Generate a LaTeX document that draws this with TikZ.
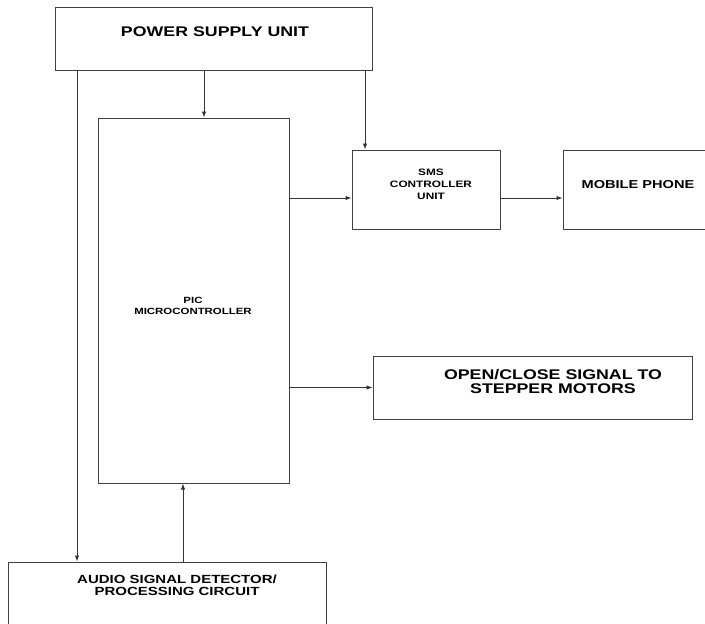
\documentclass[tikz,border=0pt]{standalone}
\usepackage{fontspec}
\setmainfont{Liberation Sans}[FakeStretch=1.27]
\usetikzlibrary{arrows.meta,positioning}

\tikzset{
  blk/.style={draw=black!75, line width=1pt, inner sep=0pt},
  txt/.style={align=center, inner sep=0pt},
  sig/.style={draw=black!80, line width=0.9pt, -{Latex[length=6pt,width=4.5pt]}}
}

\begin{document}
\begin{tikzpicture}[x=1pt,y=-1pt,node distance=211pt,on grid]
\useasboundingbox (0,0) rectangle (705,624);

% blocks
\node[blk,minimum width=317pt,minimum height=63pt]  (psu)   at (213.5,38.5)  {};
\node[blk,minimum width=191pt,minimum height=365pt] (pic)   at (193.5,300.5) {};
\node[blk,minimum width=148pt,minimum height=79pt]  (sms)   at (426,189.5)   {};
\node[blk,minimum width=148pt,minimum height=79pt]  (phone) [right=211pt of sms] {};
\node[blk,minimum width=319pt,minimum height=63pt]  (motor) at (532.5,387.5) {};
\node[blk,minimum width=318pt,minimum height=64pt]  (audio) at (167,594)     {};

% labels
\node[txt,font=\bfseries\fontsize{14pt}{14pt}\selectfont]   (psut)   at (215,31.7)  {POWER SUPPLY UNIT};
\node[txt,font=\bfseries\fontsize{9pt}{11.7pt}\selectfont]  (pict)   at (193,306)   {PIC\\MICROCONTROLLER};
\node[txt,font=\bfseries\fontsize{9.3pt}{12pt}\selectfont]  (smst)   at (431,184)   {SMS\\CONTROLLER\\UNIT};
\node[txt,font=\bfseries\fontsize{11.5pt}{12pt}\selectfont] (phonet) at (638,185)   {MOBILE PHONE};
\node[txt,font=\bfseries\fontsize{14pt}{14.5pt}\selectfont] (motort) at (553,381.5) {OPEN/CLOSE SIGNAL TO\\STEPPER MOTORS};
\node[txt,font=\bfseries\fontsize{11.8pt}{12pt}\selectfont] (audiot) at (177,585)   {AUDIO SIGNAL DETECTOR/\\PROCESSING CIRCUIT};

% tap points
\coordinate (pl) at (77,0);
\coordinate (pm) at (204,0);
\coordinate (pr) at (365,0);
\coordinate (am) at (183,0);
\coordinate (sy) at (0,198);

% connectors
\draw[sig] (psu.south -| pl) -- (audio.north -| pl);
\draw[sig] (psu.south -| pm) -- (pic.north -| pm);
\draw[sig] (psu.south -| pr) -- (sms.north -| pr);
\draw[sig] (pic.east |- sy) -- (sms.west |- sy);
\draw[sig] (sms.east |- sy) -- (phone.west |- sy);
\draw[sig] (pic.east |- motor.west) -- (motor.west);
\draw[sig] (audio.north -| am) -- (pic.south -| am);
\end{tikzpicture}
\end{document}
